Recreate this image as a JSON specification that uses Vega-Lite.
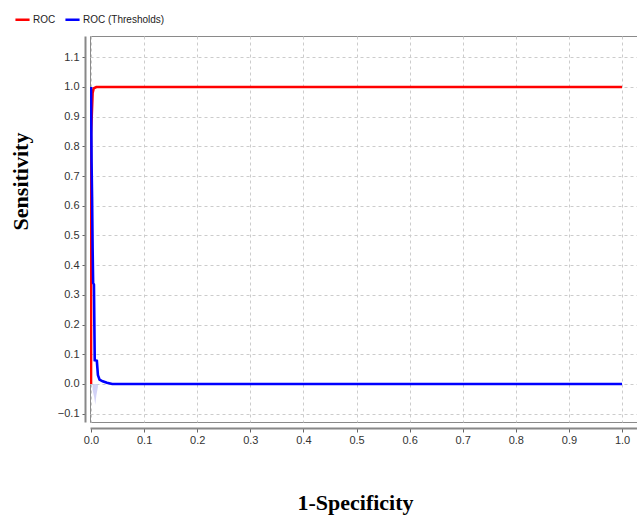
{
  "$schema": "https://vega.github.io/schema/vega-lite/v6.json",
  "width": 547,
  "height": 386,
  "autosize": {"type": "none"},
  "padding": {"left": 90, "top": 36, "right": 0, "bottom": 99},
  "background": "white",
  "config": {
    "view": {"stroke": "#8a8a8a", "strokeWidth": 1},
    "font": "Liberation Sans",
    "axis": {
      "labelFont": "Liberation Sans",
      "labelFontSize": 11,
      "labelColor": "#333333",
      "labelOverlap": false,
      "gridColor": "#cccccc",
      "gridDash": [3, 3],
      "gridWidth": 1,
      "tickColor": "#666666",
      "domainColor": "#888888",
      "domainWidth": 2,
      "titleFont": "Liberation Serif",
      "titleFontSize": 22,
      "titleFontWeight": "bold",
      "titleColor": "#000000"
    }
  },
  "datasets": {
    "curves": [
      {"series": "ROC", "i": 0, "x": 0.0, "y": 0.0},
      {"series": "ROC", "i": 1, "x": 0.0, "y": 0.84},
      {"series": "ROC", "i": 2, "x": 0.003, "y": 0.98},
      {"series": "ROC", "i": 3, "x": 0.005, "y": 0.995},
      {"series": "ROC", "i": 4, "x": 0.01, "y": 1.0},
      {"series": "ROC", "i": 5, "x": 1.0, "y": 1.0},
      {"series": "ROC (Thresholds)", "i": 0, "x": 0.0, "y": 1.0},
      {"series": "ROC (Thresholds)", "i": 1, "x": 0.001, "y": 0.75},
      {"series": "ROC (Thresholds)", "i": 2, "x": 0.002, "y": 0.63},
      {"series": "ROC (Thresholds)", "i": 3, "x": 0.003, "y": 0.46},
      {"series": "ROC (Thresholds)", "i": 4, "x": 0.004, "y": 0.34},
      {"series": "ROC (Thresholds)", "i": 5, "x": 0.0055, "y": 0.335},
      {"series": "ROC (Thresholds)", "i": 6, "x": 0.007, "y": 0.08},
      {"series": "ROC (Thresholds)", "i": 7, "x": 0.011, "y": 0.078},
      {"series": "ROC (Thresholds)", "i": 8, "x": 0.013, "y": 0.03},
      {"series": "ROC (Thresholds)", "i": 9, "x": 0.016, "y": 0.015},
      {"series": "ROC (Thresholds)", "i": 10, "x": 0.022, "y": 0.009},
      {"series": "ROC (Thresholds)", "i": 11, "x": 0.03, "y": 0.004},
      {"series": "ROC (Thresholds)", "i": 12, "x": 0.04, "y": 0.0},
      {"series": "ROC (Thresholds)", "i": 13, "x": 1.0, "y": 0.0}
    ],
    "band": [
      {"x": 0.003, "y": -0.02, "y2": 0.0},
      {"x": 0.006, "y": -0.045, "y2": 0.0},
      {"x": 0.008, "y": -0.07, "y2": 0.0},
      {"x": 0.01, "y": -0.04, "y2": 0.0},
      {"x": 0.013, "y": -0.01, "y2": 0.0}
    ]
  },
  "encoding": {
    "x": {
      "field": "x",
      "type": "quantitative",
      "scale": {"domain": [-0.0019, 1.0282], "nice": false, "zero": false},
      "axis": {
        "title": "1-Specificity",
        "values": [0, 0.1, 0.2, 0.3, 0.4, 0.5, 0.6, 0.7, 0.8, 0.9, 1.0],
        "format": ".1f",
        "labelOverlap": false,
        "offset": 6,
        "tickSize": 4,
        "labelPadding": 2,
        "titleX": 265,
        "titleY": 64,
        "titleBaseline": "top",
        "titleAnchor": null,
        "titleAlign": "center"
      }
    },
    "y": {
      "field": "y",
      "type": "quantitative",
      "scale": {"domain": [-0.128, 1.1717], "nice": false, "zero": false},
      "axis": {
        "title": "Sensitivity",
        "values": [-0.1, 0, 0.1, 0.2, 0.3, 0.4, 0.5, 0.6, 0.7, 0.8, 0.9, 1.0, 1.1],
        "format": ".1f",
        "labelOverlap": false,
        "labelFlush": false,
        "labelBound": false,
        "offset": 5,
        "tickSize": 3,
        "labelPadding": 3,
        "titleX": -53,
        "titleY": 145,
        "titleAnchor": null,
        "titleAlign": "center"
      }
    }
  },
  "layer": [
    {
      "data": {"name": "band"},
      "mark": {"type": "area", "color": "#c8c8f5", "opacity": 0.8},
      "encoding": {
        "y2": {"field": "y2"}
      }
    },
    {
      "data": {"name": "curves"},
      "mark": {"type": "line", "strokeWidth": 2.6, "clip": true},
      "encoding": {
        "color": {
          "field": "series",
          "type": "nominal",
          "scale": {"domain": ["ROC", "ROC (Thresholds)"], "range": ["#ff0000", "#0000ff"]},
          "legend": {
            "title": null,
            "orient": "none",
            "legendX": -76,
            "legendY": -25,
            "direction": "horizontal",
            "symbolType": "stroke",
            "symbolStrokeWidth": 2.5,
            "symbolSize": 200,
            "labelFontSize": 10,
            "labelColor": "#222222",
            "labelOffset": 2,
            "columnPadding": 4
          }
        },
        "order": {"field": "i", "type": "quantitative"}
      }
    }
  ]
}
